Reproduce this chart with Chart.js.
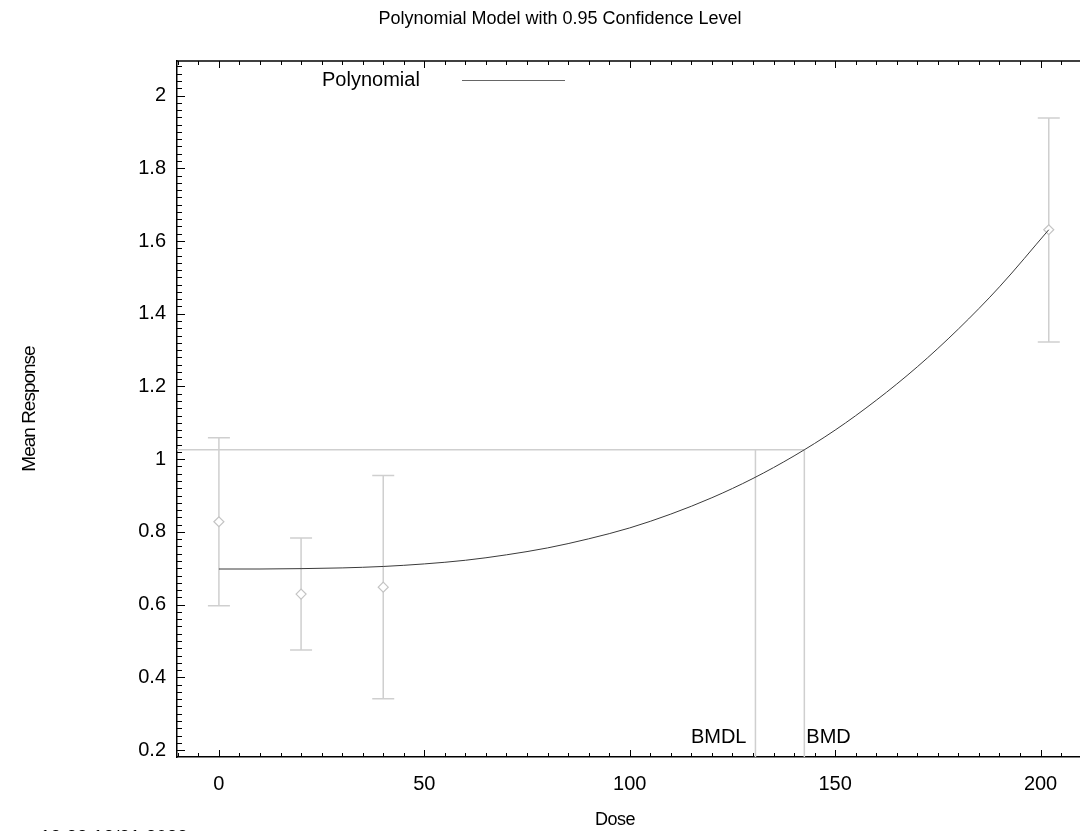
<!DOCTYPE html>
<html><head><meta charset="utf-8">
<script src="https://cdn.jsdelivr.net/npm/chart.js@4/dist/chart.umd.min.js"></script>
<style>html,body{margin:0;padding:0;background:#fff;overflow:hidden}#wrap{width:1080px;height:831px;position:relative}</style>
</head><body><div id="wrap"><canvas id="c" width="1080" height="831"></canvas></div>
<script>
// ---- data ----
const chartTitle = 'Polynomial Model with 0.95 Confidence Level';
const xTitle = 'Dose';
const yTitle = 'Mean Response';
const legendLabel = 'Polynomial';
const timestamp = '13:33 12/21 2023';

const doses = [0, 20, 40, 202];
const means = [0.828, 0.629, 0.648, 1.631];
const lowerCI = [0.597, 0.475, 0.341, 1.322];
const upperCI = [1.059, 0.783, 0.955, 1.938];

const curveDose = [0, 10, 20, 30, 40, 50, 60, 70, 80, 90, 100, 110, 120, 130, 140, 150, 160, 170, 180, 190, 202];
const curveResp = [0.698, 0.698, 0.699, 0.701, 0.705, 0.712, 0.722, 0.737, 0.756, 0.781, 0.811, 0.849, 0.894, 0.947, 1.009, 1.080, 1.162, 1.254, 1.358, 1.474, 1.631];

const bmdResponse = 1.026;
const bmd = 142.5;
const bmdl = 130.6;

const xTicks = [0, 50, 100, 150, 200];
const yTicks = [0.2, 0.4, 0.6, 0.8, 1, 1.2, 1.4, 1.6, 1.8, 2];
const xMin = -10.2, xMax = 209.6;
const yMin = 0.181, yMax = 2.095;

// ---- chart ----
const FONT = "'Liberation Sans', Arial, sans-serif";
const gray = '#cfcfcf';

const decor = {
  id: 'decor',
  beforeDatasetsDraw(chart) {
    const ctx = chart.ctx, xs = chart.scales.x, ys = chart.scales.y;
    ctx.save();
    ctx.strokeStyle = gray; ctx.lineWidth = 1.5;
    doses.forEach((d, i) => {
      const px = xs.getPixelForValue(d);
      const yl = ys.getPixelForValue(lowerCI[i]);
      const yh = ys.getPixelForValue(upperCI[i]);
      ctx.beginPath();
      ctx.moveTo(px, yl); ctx.lineTo(px, yh);
      ctx.moveTo(px - 11, yl); ctx.lineTo(px + 11, yl);
      ctx.moveTo(px - 11, yh); ctx.lineTo(px + 11, yh);
      ctx.stroke();
    });
    ctx.restore();
  },
  afterDraw(chart) {
    const ctx = chart.ctx, xs = chart.scales.x, ys = chart.scales.y, a = chart.chartArea;
    ctx.save();
    // top border
    ctx.strokeStyle = '#000'; ctx.lineWidth = 1.5;
    ctx.beginPath(); ctx.moveTo(a.left, a.top); ctx.lineTo(a.right, a.top); ctx.stroke();
    // inward ticks
    ctx.lineWidth = 1;
    ctx.beginPath();
    for (let v = -10; v <= xMax; v += 5) {
      if (v < xMin) continue;
      const px = Math.round(xs.getPixelForValue(v)) + 0.5;
      const major = Math.abs(v % 50) < 1e-6;
      const len = major ? 7 : 4;
      ctx.moveTo(px, a.bottom); ctx.lineTo(px, a.bottom - len);
      ctx.moveTo(px, a.top); ctx.lineTo(px, a.top + len);
    }
    for (let k = 10; k <= 210; k += 2) {
      const v = k / 100;
      if (v < yMin || v > yMax) continue;
      const py = Math.round(ys.getPixelForValue(v)) + 0.5;
      const major = k % 20 === 0;
      const len = major ? 8 : 5;
      ctx.moveTo(a.left, py); ctx.lineTo(a.left + len, py);
    }
    ctx.stroke();

    ctx.fillStyle = '#000';
    // title
    ctx.font = '18px ' + FONT;
    ctx.textAlign = 'center'; ctx.textBaseline = 'middle';
    ctx.fillText(chartTitle, 560, 19);
    // axis titles
    ctx.font = '18px ' + FONT;
    ctx.letterSpacing = '-0.5px';
    ctx.fillText(xTitle, 615, 820);
    ctx.font = '19px ' + FONT;
    ctx.letterSpacing = '-1px';
    ctx.save();
    ctx.translate(30, 409); ctx.rotate(-Math.PI / 2);
    ctx.fillText(yTitle, 0, 0);
    ctx.restore();
    ctx.letterSpacing = '0px';
    // legend
    ctx.font = '20px ' + FONT;
    ctx.textAlign = 'left';
    ctx.fillText(legendLabel, 322, 80);
    ctx.strokeStyle = '#666'; ctx.lineWidth = 1;
    ctx.beginPath(); ctx.moveTo(462, 80.5); ctx.lineTo(565, 80.5); ctx.stroke();
    // BMD labels
    const yLab = a.bottom - 20;
    ctx.textAlign = 'right';
    ctx.fillText('BMDL', xs.getPixelForValue(bmdl) - 9, yLab);
    ctx.textAlign = 'left';
    ctx.fillText('BMD', xs.getPixelForValue(bmd) + 2, yLab);
    // timestamp (cut off at bottom)
    ctx.font = '19px ' + FONT;
    ctx.textBaseline = 'top';
    ctx.fillText(timestamp, 40, 828);
    ctx.restore();
  }
};

new Chart(document.getElementById('c'), {
  type: 'scatter',
  data: {
    datasets: [
      {
        type: 'line', order: 0,
        data: curveDose.map((d, i) => ({x: d, y: curveResp[i]})),
        borderColor: '#3a3a3a', borderWidth: 1, pointRadius: 0,
        cubicInterpolationMode: 'monotone', fill: false
      },
      {
        order: 1,
        data: doses.map((d, i) => ({x: d, y: means[i]})),
        pointStyle: 'rectRot', pointRadius: 5, borderColor: '#c4c4c4',
        backgroundColor: '#fff', borderWidth: 1.2
      },
      {
        type: 'line', order: 2,
        data: [{x: xMin, y: bmdResponse}, {x: bmd, y: bmdResponse}, {x: bmd, y: yMin}],
        borderColor: gray, borderWidth: 1.5, pointRadius: 0, tension: 0, fill: false
      },
      {
        type: 'line', order: 2,
        data: [{x: bmdl, y: bmdResponse}, {x: bmdl, y: yMin}],
        borderColor: gray, borderWidth: 1.5, pointRadius: 0, tension: 0, fill: false
      }
    ]
  },
  options: {
    responsive: false, animation: false, devicePixelRatio: 1,
    layout: {autoPadding: false, padding: {top: 61, left: 0, right: 0, bottom: 0}},
    plugins: {legend: {display: false}, tooltip: {enabled: false}, title: {display: false}},
    scales: {
      x: {
        type: 'linear', position: 'bottom', min: xMin, max: xMax,
        afterBuildTicks: s => { s.ticks = xTicks.map(v => ({value: v})); },
        afterFit: s => { s.height = 74; },
        ticks: {color: '#000', font: {family: FONT, size: 20}, padding: 15, maxRotation: 0,
                callback: v => String(v)},
        grid: {display: true, drawOnChartArea: false, drawTicks: false},
        border: {display: true, color: '#000', width: 1.5}
      },
      y: {
        type: 'linear', position: 'left', min: yMin, max: yMax,
        afterBuildTicks: s => { s.ticks = yTicks.map(v => ({value: v})); },
        afterFit: s => { s.width = 177; },
        ticks: {color: '#000', font: {family: FONT, size: 20}, padding: 11,
                callback: v => String(Number(v.toFixed(2)))},
        grid: {display: true, drawOnChartArea: false, drawTicks: false},
        border: {display: true, color: '#000', width: 1.5}
      }
    }
  },
  plugins: [decor]
});
</script></body></html>
